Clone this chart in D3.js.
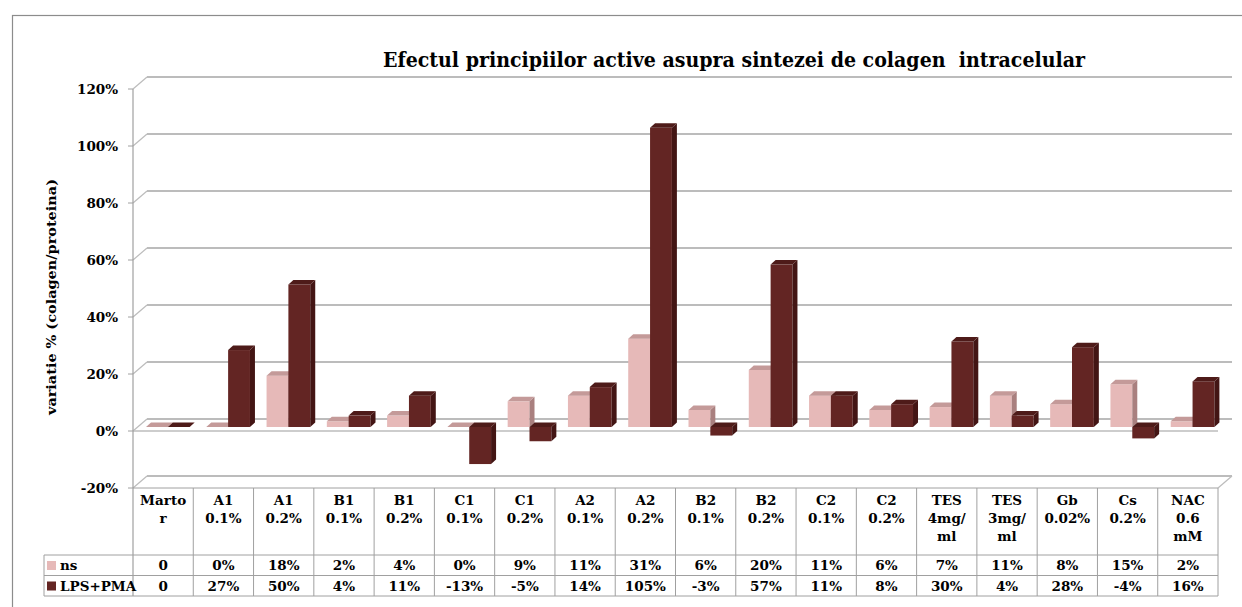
<!DOCTYPE html>
<html>
<head>
<meta charset="utf-8">
<script src="https://cdn.jsdelivr.net/npm/d3@7"></script>
<style>
  body { margin: 0; background: #fff; }
  text { font-family: "DejaVu Serif", serif; font-weight: bold; fill: #000; }
</style>
</head>
<body>
<svg width="1242" height="607"></svg>
<script>
/********** Data **********/
var categories = ["Marto r", "A1 0.1%", "A1 0.2%", "B1 0.1%", "B1 0.2%", "C1 0.1%", "C1 0.2%",
                  "A2 0.1%", "A2 0.2%", "B2 0.1%", "B2 0.2%", "C2 0.1%", "C2 0.2%",
                  "TES 4mg/ ml", "TES 3mg/ ml", "Gb 0.02%", "Cs 0.2%", "NAC 0.6 mM"];
var nsValues  = [0, 0, 18, 2, 4, 0, 9, 11, 31, 6, 20, 11, 6, 7, 11, 8, 15, 2];
var lpsValues = [0, 27, 50, 4, 11, -13, -5, 14, 105, -3, 57, 11, 8, 30, 4, 28, -4, 16];
var nsText    = ["0", "0%", "18%", "2%", "4%", "0%", "9%", "11%", "31%", "6%", "20%", "11%", "6%", "7%", "11%", "8%", "15%", "2%"];
var lpsText   = ["0", "27%", "50%", "4%", "11%", "-13%", "-5%", "14%", "105%", "-3%", "57%", "11%", "8%", "30%", "4%", "28%", "-4%", "16%"];
var seriesNames = ["ns", "LPS+PMA"];
var yTicks = [-20, 0, 20, 40, 60, 80, 100, 120];

var title = "Efectul principiilor active asupra sintezei de colagen  intracelular";
var yTitle = "variatie % (colagen/proteina)";

/********** Setup **********/
var svg = d3.select("svg");

var colors = {
    ns:  {front: "#e6b9b8", side: "#a9807f", top: "#c49a99"},
    lps: {front: "#632523", side: "#431514", top: "#4e1b19"}
};

var left = 133, right = 1218;
var depthX = 14, depthY = 12;     // back wall offset
var barDX = 4.7, barDY = 4;       // bars sit a bit inside
var sideX = 5, sideY = 4.5;       // bar thickness

var x = d3.scaleBand()
    .domain(d3.range(categories.length))
    .range([left, right]);

var xs = d3.scaleBand()
    .domain([0, 1])
    .range([0, x.bandwidth()])
    .paddingOuter(0.38)
    .paddingInner(0);

var y = d3.scaleLinear()
    .domain([-20, 120])
    .range([488, 89]);

var tableTop = y(-20), rowTop = 555, rowH = 20.5, tableBottom = rowTop + 2 * rowH;
var gridColor = "#bcbcbc", lineColor = "#a0a0a0";

// outer frame
svg.append("rect")
    .attr("x", 12.5).attr("y", 15.5)
    .attr("width", 1240).attr("height", 620)
    .attr("fill", "none")
    .attr("stroke", "#8c8c8c")
    .attr("stroke-width", 1.2);

/********** Walls / gridlines **********/
var grid = svg.append("g");

grid.selectAll("line.back")
    .data(yTicks)
    .enter().append("line")
    .attr("x1", left + depthX).attr("x2", right + depthX)
    .attr("y1", function(d) { return y(d) - depthY; })
    .attr("y2", function(d) { return y(d) - depthY; })
    .attr("stroke", gridColor)
    .attr("stroke-width", 2);

grid.selectAll("line.diag")
    .data(yTicks)
    .enter().append("line")
    .attr("x1", left).attr("x2", left + depthX)
    .attr("y1", function(d) { return y(d); })
    .attr("y2", function(d) { return y(d) - depthY; })
    .attr("stroke", gridColor)
    .attr("stroke-width", 1.2);

// front edge of zero plane and right diagonal
grid.append("line")
    .attr("x1", left).attr("x2", right)
    .attr("y1", y(0)).attr("y2", y(0))
    .attr("stroke", gridColor).attr("stroke-width", 1.5);
grid.append("line")
    .attr("x1", right).attr("x2", right + depthX)
    .attr("y1", y(-20)).attr("y2", y(-20) - depthY)
    .attr("stroke", gridColor).attr("stroke-width", 1.2);

/********** Bars **********/
function drawBar(g, i, s, v, c) {
    var x0 = x(i) + xs(s) + barDX,
        x1 = x0 + xs.bandwidth(),
        yt = Math.min(y(v), y(0)) - barDY,
        yb = Math.max(y(v), y(0)) - barDY;
    g.append("rect")
        .attr("x", x0).attr("y", yt)
        .attr("width", x1 - x0).attr("height", yb - yt)
        .attr("fill", c.front);
    g.append("polygon")
        .attr("points", [[x1, yt], [x1 + sideX, yt - sideY], [x1 + sideX, yb - sideY], [x1, yb]].join(" "))
        .attr("fill", c.side);
    g.append("polygon")
        .attr("points", [[x0, yt], [x0 + sideX, yt - sideY], [x1 + sideX, yt - sideY], [x1, yt]].join(" "))
        .attr("fill", c.top);
}

var bars = svg.append("g");
categories.forEach(function(d, i) {
    drawBar(bars, i, 0, nsValues[i], colors.ns);
    drawBar(bars, i, 1, lpsValues[i], colors.lps);
});

/********** Y axis **********/
var axis = svg.append("g");
axis.append("line")
    .attr("x1", left).attr("x2", left)
    .attr("y1", y(120)).attr("y2", tableBottom)
    .attr("stroke", lineColor).attr("stroke-width", 1.2);

axis.selectAll("line.tick")
    .data(yTicks)
    .enter().append("line")
    .attr("x1", left - 5).attr("x2", left)
    .attr("y1", function(d) { return y(d); })
    .attr("y2", function(d) { return y(d); })
    .attr("stroke", lineColor);

axis.selectAll("text")
    .data(yTicks)
    .enter().append("text")
    .attr("x", 118)
    .attr("y", function(d) { return y(d) + 5; })
    .attr("text-anchor", "end")
    .style("font-size", "13.5px")
    .text(function(d) { return d + "%"; });

svg.append("text")
    .attr("transform", "translate(56," + 297 + ") rotate(-90)")
    .attr("text-anchor", "middle")
    .attr("textLength", 236)
    .attr("lengthAdjust", "spacingAndGlyphs")
    .style("font-size", "12px")
    .text(yTitle);

/********** Title **********/
svg.append("text")
    .attr("x", 734)
    .attr("y", 67)
    .attr("text-anchor", "middle")
    .attr("textLength", 702)
    .attr("lengthAdjust", "spacingAndGlyphs")
    .style("white-space", "pre")
    .style("font-family", "'DejaVu Serif Condensed', 'DejaVu Serif', serif")
    .style("font-size", "19.5px")
    .text(title);

/********** Data table **********/
var table = svg.append("g");

table.append("line")
    .attr("x1", left).attr("x2", right)
    .attr("y1", tableTop).attr("y2", tableTop)
    .attr("stroke", lineColor);

[rowTop, rowTop + rowH, tableBottom].forEach(function(yy) {
    table.append("line")
        .attr("x1", 44).attr("x2", right)
        .attr("y1", yy).attr("y2", yy)
        .attr("stroke", lineColor);
});

table.append("line")
    .attr("x1", 44).attr("x2", 44)
    .attr("y1", rowTop).attr("y2", tableBottom)
    .attr("stroke", lineColor);

table.selectAll("line.col")
    .data(d3.range(1, categories.length + 1))
    .enter().append("line")
    .attr("x1", function(d) { return x(0) + d * x.bandwidth(); })
    .attr("x2", function(d) { return x(0) + d * x.bandwidth(); })
    .attr("y1", tableTop).attr("y2", tableBottom)
    .attr("stroke", lineColor);

// header labels
var heads = table.selectAll("text.head")
    .data(categories)
    .enter().append("text")
    .attr("text-anchor", "middle")
    .style("font-size", "13.5px");

heads.each(function(d, i) {
    var t = d3.select(this);
    d.split(" ").forEach(function(part, k) {
        t.append("tspan")
            .attr("x", x(i) + x.bandwidth() / 2)
            .attr("y", 505 + k * 18)
            .text(part);
    });
});

table.selectAll("text.ns")
    .data(nsText)
    .enter().append("text")
    .attr("x", function(d, i) { return x(i) + x.bandwidth() / 2; })
    .attr("y", rowTop + 15)
    .attr("text-anchor", "middle")
    .style("font-size", "13.5px")
    .text(function(d) { return d; });

table.selectAll("text.lps")
    .data(lpsText)
    .enter().append("text")
    .attr("x", function(d, i) { return x(i) + x.bandwidth() / 2; })
    .attr("y", rowTop + rowH + 15)
    .attr("text-anchor", "middle")
    .style("font-size", "13.5px")
    .text(function(d) { return d; });

// legend keys inside table
[colors.ns.front, colors.lps.front].forEach(function(c, k) {
    table.append("rect")
        .attr("x", 47).attr("y", rowTop + k * rowH + 6)
        .attr("width", 9).attr("height", 9)
        .attr("fill", c);
    table.append("text")
        .attr("x", 60).attr("y", rowTop + k * rowH + 15)
        .style("font-size", "13.5px")
        .text(seriesNames[k]);
});
</script>
</body>
</html>
